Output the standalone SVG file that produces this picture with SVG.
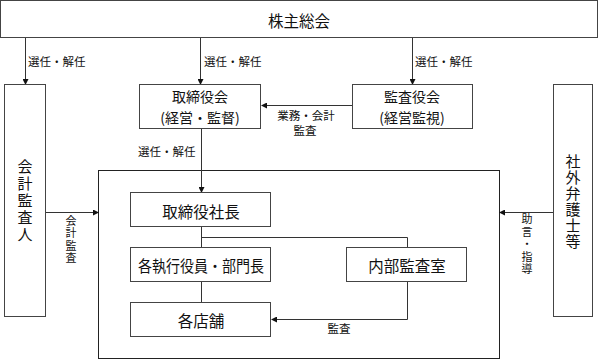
<svg xmlns="http://www.w3.org/2000/svg" width="598" height="360" viewBox="0 0 598 360">
<style>
.box{fill:#fff;stroke:#444;stroke-width:1}
.frame{fill:none;stroke:#222;stroke-width:1}
.ln{fill:none;stroke:#333;stroke-width:1}
text{font-family:"Noto Sans CJK JP","Noto Sans CJK SC",sans-serif;fill:#111;dominant-baseline:central}
.l{font-size:15.5px;text-anchor:middle}
.m{font-size:14px;text-anchor:middle}
.s{font-size:11.5px}
.sc{font-size:11.5px;text-anchor:middle}
.v{writing-mode:vertical-rl;text-anchor:middle}
.vl{font-size:15px;letter-spacing:2px}
.vs{font-size:11px;letter-spacing:1.5px}
</style>
<defs>
<marker id="ah" markerWidth="6" markerHeight="6" refX="5" refY="3" orient="auto" markerUnits="userSpaceOnUse">
<path d="M0,0 L6,3 L0,6 Z" fill="#111"/>
</marker>
</defs>
<g id="inner-frame"><rect class="frame" x="98.5" y="170.5" width="401" height="188"/></g>
<g id="connectors">
<line class="ln" x1="25.5" y1="38" x2="25.5" y2="84" marker-end="url(#ah)"/>
<line class="ln" x1="200.5" y1="38" x2="200.5" y2="84" marker-end="url(#ah)"/>
<line class="ln" x1="412.5" y1="38" x2="412.5" y2="84" marker-end="url(#ah)"/>
<line class="ln" x1="352" y1="105.5" x2="262" y2="105.5" marker-end="url(#ah)"/>
<line class="ln" x1="201.5" y1="129" x2="201.5" y2="192" marker-end="url(#ah)"/>
<line class="ln" x1="46" y1="212.5" x2="98" y2="212.5" marker-end="url(#ah)"/>
<line class="ln" x1="553" y1="212.5" x2="500" y2="212.5" marker-end="url(#ah)"/>
<line class="ln" x1="201.5" y1="227" x2="201.5" y2="247"/>
<polyline class="ln" points="201.5,237.5 407.5,237.5 407.5,247"/>
<line class="ln" x1="201.5" y1="282" x2="201.5" y2="302"/>
<polyline class="ln" points="407.5,282 407.5,319.5 272,319.5" marker-end="url(#ah)"/>
<text class="s" x="28" y="61">選任・解任</text>
<text class="s" x="204" y="61">選任・解任</text>
<text class="s" x="415" y="61">選任・解任</text>
<text class="s" x="138" y="151">選任・解任</text>
<text class="sc"><tspan x="306" y="115">業務・会計</tspan><tspan x="305" y="130">監査</tspan></text>
<text class="sc" x="339" y="328">監査</text>
<text class="v vs" x="71" y="240">会計監査</text>
<text class="v vs" x="527" y="245">助言・指導</text>
</g>
<g id="shareholders"><rect class="box" x="0.5" y="0.5" width="597" height="37"/><text class="l" x="299" y="20">株主総会</text></g>
<g id="accounting-auditor"><rect class="box" x="4.5" y="84.5" width="41" height="232"/>
<text class="v vl" x="25" y="201">会計監査人</text></g>
<g id="board"><rect class="box" x="139.5" y="84.5" width="121" height="44"/><text class="m"><tspan x="200" y="96">取締役会</tspan><tspan x="200" y="117">(経営・監督)</tspan></text></g>
<g id="audit-board"><rect class="box" x="352.5" y="84.5" width="120" height="44"/><text class="m"><tspan x="412" y="96">監査役会</tspan><tspan x="412" y="117">(経営監視)</tspan></text></g>
<g id="lawyers"><rect class="box" x="553.5" y="84.5" width="39" height="232"/>
<text class="v vl" x="573" y="202" style="letter-spacing:1px">社外弁護士等</text></g>
<g id="president"><rect class="box" x="130.5" y="192.5" width="140" height="34"/><text class="l" x="201" y="211">取締役社長</text></g>
<g id="officers"><rect class="box" x="130.5" y="247.5" width="140" height="34"/><text class="l" x="201" y="265" textLength="126" lengthAdjust="spacingAndGlyphs">各執行役員・部門長</text></g>
<g id="internal-audit"><rect class="box" x="346.5" y="247.5" width="120" height="34"/><text class="l" x="407" y="265">内部監査室</text></g>
<g id="stores"><rect class="box" x="130.5" y="302.5" width="140" height="34"/><text class="l" x="201" y="320">各店舗</text></g>
</svg>
